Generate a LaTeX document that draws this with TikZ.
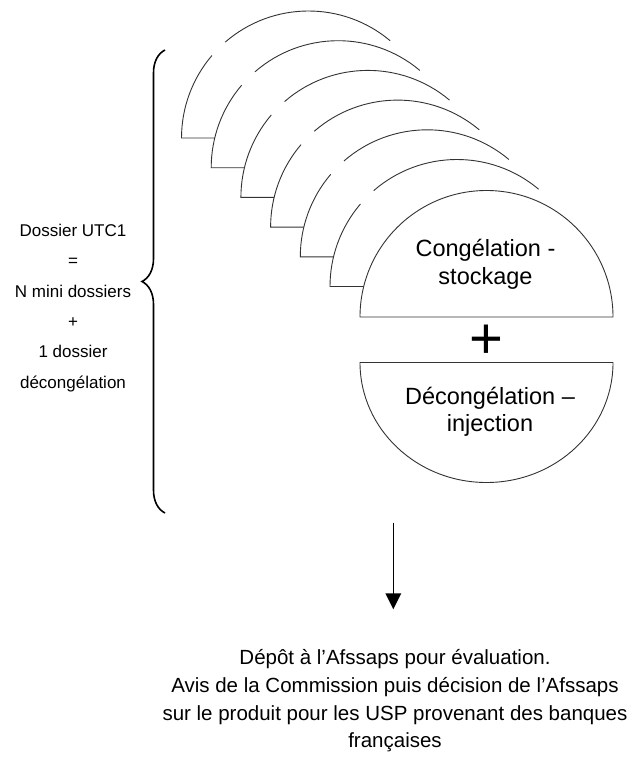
\documentclass[tikz,border=0pt]{standalone}
\usepackage{fontspec}
\setmainfont{Liberation Sans}
\usetikzlibrary{arrows.meta,decorations.pathreplacing}
\begin{document}
\begin{tikzpicture}[x=1bp,y=1bp,
    demi/.style={draw=black!80,line width=0.9bp,fill=white},
    trait/.style={draw=black!80,line width=0.9bp},
    texte/.style={align=center,inner sep=0pt}]
  \useasboundingbox (0,0) rectangle (636,-762);
  % pile des mini dossiers
  \foreach \i in {0,...,5} {
    \pgfmathsetmacro\cx{308.5+29.7*\i}
    \pgfmathsetmacro\cy{-138-29.7*\i}
    \fill[white] (\cx-127,\cy) arc[start angle=180,end angle=0,radius=127] -- cycle;
    \draw[trait] (\cx+127,\cy) -- (\cx-127,\cy) arc[start angle=180,end angle=139.5,radius=127];
    \draw[trait] (\cx,\cy) ++(131:127) arc[start angle=131,end angle=50,radius=127];
  }
  % dossier complet
  \draw[demi] (360,-317) arc[start angle=180,end angle=0,radius=126.5] -- cycle;
  \node[texte,font=\fontsize{23.5bp}{28.3bp}\selectfont] (congel) at (485.5,-264.6) {Congélation -\\stockage};
  \node[inner sep=0pt,anchor=base,font=\fontsize{58bp}{58bp}\selectfont] (plus) at (486,-358.5) {+};
  \draw[demi] (360,-362.5) arc[start angle=180,end angle=360,x radius=126.5,y radius=120] -- cycle;
  \node[texte,font=\fontsize{23.5bp}{27.5bp}\selectfont] (decongel) at (490,-412) {Décongélation –\\injection};
  % accolade
  \draw[line width=1.6bp,decorate,decoration={brace,amplitude=23bp}] (165,-513) -- (165,-50);
  \node[texte,font=\fontsize{17bp}{30.3bp}\selectfont] (dossier) at (73,-308) {Dossier UTC1\\=\\N mini dossiers\\+\\1 dossier\\décongélation};
  % fleche
  \coordinate (haut) at (393.3,-522.7);
  \coordinate (bas) at (393.3,-609.3);
  \draw[line width=1.5bp,-{Triangle[width=15.6bp,length=16bp]}] (haut) -- (bas);
  \node[texte,font=\fontsize{20.5bp}{27.7bp}\selectfont] (depot) at (395,-701) {Dépôt à l’Afssaps pour évaluation.\\Avis de la Commission puis décision de l’Afssaps\\sur le produit pour les USP provenant des banques\\françaises};
\end{tikzpicture}
\end{document}
